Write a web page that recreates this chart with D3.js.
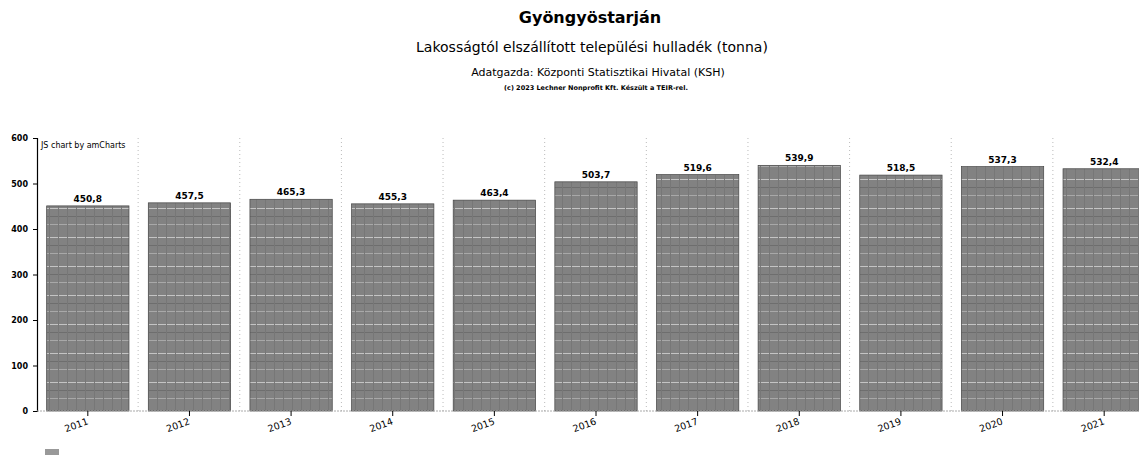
<html>
<head>
  <title>Gyöngyöstarján</title>
  <script src="https://d3js.org/d3.v7.min.js"></script>
  <style>
  body { margin: 0; background: #fff; }
  text { font-family: "DejaVu Sans", Verdana, sans-serif; fill: #000; }
  </style>
</head>
<body>
  <div id="chart"></div>
  <script>

    var years = ["2011","2012","2013","2014","2015","2016","2017","2018","2019","2020","2021"];
    var values = [450.8, 457.5, 465.3, 455.3, 463.4, 503.7, 519.6, 539.9, 518.5, 537.3, 532.4];
    var yTicks = [0, 100, 200, 300, 400, 500, 600];

    var svg = d3.select("#chart").append("svg")
      .attr("width", 1139).attr("height", 457);

    // pattern to imitate the scanned grey bars
    var pat = svg.append("defs").append("pattern")
      .attr("id", "scan").attr("width", 9).attr("height", 29)
      .attr("patternUnits", "userSpaceOnUse");
    pat.append("rect").attr("width", 9).attr("height", 29).attr("fill", "#828282");
    pat.append("rect").attr("y", 5).attr("width", 9).attr("height", 1).attr("fill", "#c4c4c4");
    pat.append("rect").attr("y", 13).attr("width", 9).attr("height", 1).attr("fill", "#6e6e6e");
    pat.append("rect").attr("y", 21).attr("width", 9).attr("height", 1).attr("fill", "#a8a8a8");
    pat.append("rect").attr("x", 4).attr("width", 1).attr("height", 29).attr("fill", "#777");

    // titles
    svg.append("text").attr("x", 590).attr("y", 23).attr("text-anchor", "middle")
      .style("font-size", "16px").style("font-weight", "bold").text("Gyöngyöstarján");
    svg.append("text").attr("x", 592).attr("y", 52).attr("text-anchor", "middle")
      .style("font-size", "14px").text("Lakosságtól elszállított települési hulladék (tonna)");
    svg.append("text").attr("x", 598).attr("y", 76).attr("text-anchor", "middle")
      .style("font-size", "11px").text("Adatgazda: Központi Statisztikai Hivatal (KSH)");
    svg.append("text").attr("x", 596).attr("y", 90).attr("text-anchor", "middle")
      .style("font-size", "6.5px").style("font-weight", "bold").text("(c) 2023 Lechner Nonprofit Kft. Készült a TEIR-rel.");

    var plotLeft = 37, plotRight = 1155, plotTop = 138, plotBottom = 411;

    var x = d3.scaleBand().domain(years).range([plotLeft, plotRight]).paddingInner(0.19).paddingOuter(0.095);
    var y = d3.scaleLinear().domain([0, 600]).range([plotBottom, plotTop]);

    // vertical dotted grid between categories
    var step = x.step();
    svg.selectAll("line.grid").data(years.slice(1)).enter().append("line")
      .attr("class", "grid")
      .attr("x1", function(d){ return x(d) - x.paddingInner()*step/2 - 0.5; })
      .attr("x2", function(d){ return x(d) - x.paddingInner()*step/2 - 0.5; })
      .attr("y1", plotTop).attr("y2", plotBottom)
      .attr("stroke", "#bbb").attr("stroke-dasharray", "1,3");

    // bars
    svg.selectAll("rect.bar").data(values).enter().append("rect")
      .attr("class", "bar")
      .attr("x", function(d, i){ return x(years[i]); })
      .attr("y", function(d){ return y(d); })
      .attr("width", x.bandwidth())
      .attr("height", function(d){ return plotBottom - y(d); })
      .attr("fill", "url(#scan)")
      .attr("stroke", "#444").attr("stroke-width", 0.7);

    // value labels
    svg.selectAll("text.val").data(values).enter().append("text")
      .attr("class", "val")
      .attr("x", function(d, i){ return x(years[i]) + x.bandwidth()/2; })
      .attr("y", function(d){ return y(d) - 4; })
      .attr("text-anchor", "middle")
      .style("font-size", "9px").style("font-weight", "bold")
      .text(function(d){ return d.toFixed(1).replace(".", ","); });

    // y axis
    var yAxis = d3.axisLeft(y).tickValues(yTicks).tickSize(4).tickPadding(5);
    var gy = svg.append("g").attr("transform", "translate(" + plotLeft + ",0)").call(yAxis);
    gy.select(".domain").attr("stroke", "#000").attr("stroke-width", 1.2);
    gy.selectAll("text").style("font-size", "8px").style("font-weight", "bold")
      .style("font-family", "DejaVu Sans, sans-serif");

    // baseline
    svg.append("line").attr("x1", plotLeft).attr("x2", plotRight).attr("y1", plotBottom).attr("y2", plotBottom)
      .attr("stroke", "#aaa").attr("stroke-dasharray", "2,1");

    // x axis ticks and rotated labels
    var gx = svg.append("g");
    years.forEach(function(d){
      var cx = x(d) + x.bandwidth()/2;
      gx.append("line").attr("x1", cx).attr("x2", cx).attr("y1", plotBottom).attr("y2", plotBottom + 5)
        .attr("stroke", "#000");
      gx.append("text")
        .attr("transform", "translate(" + (cx + 1) + "," + (plotBottom + 13) + ") rotate(-20)")
        .attr("text-anchor", "end")
        .style("font-size", "9.5px")
        .text(d);
    });

    svg.append("text").attr("x", 41).attr("y", 148)
      .style("font-size", "8px").text("JS chart by amCharts");

    // legend swatch
    svg.append("rect").attr("x", 45).attr("y", 449).attr("width", 14).attr("height", 6)
      .attr("fill", "#999");

  </script>
</body>
</html>
